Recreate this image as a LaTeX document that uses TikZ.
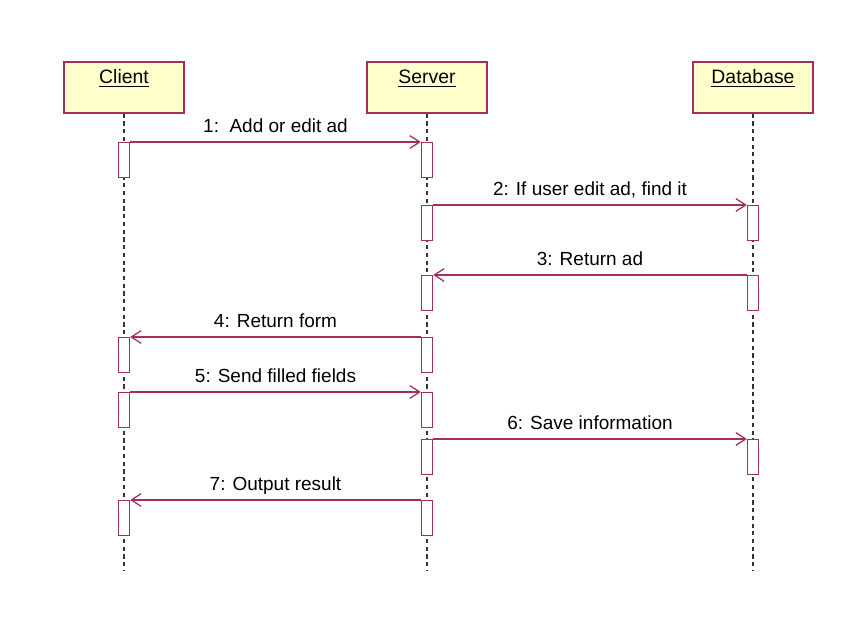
\documentclass[tikz,border=0pt]{standalone}
\usepackage{fontspec}
\setmainfont{Liberation Sans}
\usetikzlibrary{arrows.meta, positioning}

\definecolor{umlred}{RGB}{165,45,95}
\definecolor{umlfill}{RGB}{255,255,204}

\begin{document}
\begin{tikzpicture}[
    x=0.025cm, y=-0.025cm,
    object/.style={rectangle, draw=umlred, fill=umlfill, line width=0.9pt, minimum width=3cm, inner sep=0pt, text height=15.5pt, text depth=20.7pt, font=\fontsize{13.8}{16}\selectfont},
    act/.style={rectangle, draw=umlred, fill=white, line width=0.9pt, minimum width=0.275cm, minimum height=0.875cm, inner sep=0pt, anchor=north},
    lifeline/.style={dash pattern=on 3pt off 2.5pt, line width=0.8pt, black!80},
    msg/.style={-{Straight Barb[length=7pt, width=9pt]}, umlred, line width=0.9pt},
    msglabel/.style={font=\fontsize{13.5}{16}\selectfont, text=black, anchor=base, yshift=7pt, inner sep=0pt},
]

\useasboundingbox (0,0) rectangle (853,638);

% ── Objects ──
\node[object] (client) at (124,87.5) {\underline{Client}};
\node[object] (server) at (427,87.5) {\underline{Server}};
\node[object] (database) at (753,87.5) {\underline{Database}};

% ── Lifelines ──
\coordinate (bottom) at (0,570);
\foreach \n in {client, server, database}
    \draw[lifeline] (\n.south) -- (\n.south |- bottom);

% ── Activations: client ──
\node[act] (c1) at (124,142) {};
\node[act] (c4) at (124,337) {};
\node[act] (c5) at (124,392) {};
\node[act] (c7) at (124,500) {};

% ── Activations: server ──
\node[act] (s1) at (427,142) {};
\node[act] (s2) at (427,205) {};
\node[act] (s3) at (427,275) {};
\node[act] (s4) at (427,337) {};
\node[act] (s5) at (427,392) {};
\node[act] (s6) at (427,439) {};
\node[act] (s7) at (427,500) {};

% ── Activations: database ──
\node[act] (d2) at (753,205) {};
\node[act] (d3) at (753,275) {};
\node[act] (d6) at (753,439) {};

% ── Messages ──
\draw[msg] (c1.north east) -- node[msglabel] (m1) {1:\ \ Add or edit ad} (s1.north west);
\draw[msg] (s2.north east) -- node[msglabel] (m2) {2: If user edit ad, find it} (d2.north west);
\draw[msg] (d3.north west) -- node[msglabel] (m3) {3: Return ad} (s3.north east);
\draw[msg] (s4.north west) -- node[msglabel] (m4) {4: Return form} (c4.north east);
\draw[msg] (c5.north east) -- node[msglabel] (m5) {5: Send filled fields} (s5.north west);
\draw[msg] (s6.north east) -- node[msglabel] (m6) {6: Save information} (d6.north west);
\draw[msg] (s7.north west) -- node[msglabel] (m7) {7: Output result} (c7.north east);

\end{tikzpicture}
\end{document}
